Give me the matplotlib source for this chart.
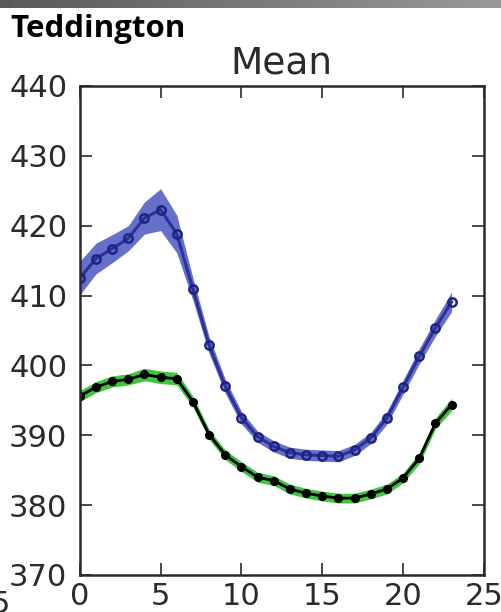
import numpy as np
import matplotlib
matplotlib.use('Agg')
import matplotlib.pyplot as plt

# hour of day
hours = list(range(24))

# upper series (blue) mean and spread
blue_mean = [412.5, 415.3, 416.7, 418.2, 421.1, 422.3, 418.8, 410.9, 402.9, 397.0,
             392.5, 389.8, 388.4, 387.5, 387.2, 387.1, 387.0, 387.9, 389.6, 392.5,
             396.9, 401.3, 405.4, 409.1]
blue_spread = [2.4, 2.2, 2.0, 1.8, 2.3, 3.0, 2.7, 1.6, 1.2, 1.0,
               0.9, 0.8, 0.8, 0.8, 0.8, 0.8, 0.8, 0.8, 0.8, 0.9,
               1.0, 1.1, 1.2, 1.4]

# lower series (green) mean and spread
green_mean = [395.6, 396.9, 397.7, 398.0, 398.7, 398.3, 398.1, 394.8, 390.1, 387.2,
              385.5, 384.0, 383.5, 382.3, 381.7, 381.3, 381.0, 381.0, 381.6, 382.3,
              383.9, 386.7, 391.7, 394.4]
green_spread = [0.8, 0.8, 0.8, 0.8, 0.9, 0.9, 0.9, 0.8, 0.7, 0.7,
                0.7, 0.7, 0.7, 0.7, 0.7, 0.7, 0.7, 0.7, 0.7, 0.7,
                0.7, 0.8, 0.8, 0.9]

x_ticks = [0, 5, 10, 15, 20, 25]
y_ticks = [370, 380, 390, 400, 410, 420, 430, 440]

fig = plt.figure(figsize=(5.02, 6.12), dpi=100)
ax = fig.add_axes([0.159, 0.0605, 0.805, 0.799])

h = np.array(hours)
bm = np.array(blue_mean)
bs = np.array(blue_spread)
gm = np.array(green_mean)
gs = np.array(green_spread)

ax.fill_between(h, bm - bs, bm + bs, color='#5560c6', alpha=0.9, lw=0)
ax.plot(h, bm, color='#2a3296', lw=2.2, marker='o', ms=6, mfc='none',
        mec='#1c2480', mew=1.8)

ax.fill_between(h, gm - gs, gm + gs, color='#36c236', alpha=0.95, lw=0)
ax.plot(h, gm, color='black', lw=2.0, marker='o', ms=5.5, mfc='black', mec='black')

ax.set_xlim(0, 25)
ax.set_ylim(370, 440)
ax.set_xticks(x_ticks)
ax.set_yticks(y_ticks)
ax.tick_params(direction='in', length=8.5, width=1.2, top=True, right=True,
               labelsize=22, colors='#2a2a2a')
ax.tick_params(axis='y', pad=9)
ax.tick_params(axis='x', pad=5)
for sp in ax.spines.values():
    sp.set_linewidth(1.8)
    sp.set_color('#2a2a2a')

ax.set_title('Mean', fontsize=27, pad=9, color='#2a2a2a')

fig.text(0.02, 0.952, 'Teddington', fontsize=22.5, fontweight='bold',
         family=['Open Sans', 'DejaVu Sans'], ha='left', va='center')
fig.text(0.0, 0.012, '5', fontsize=22, ha='center', va='center', color='#2a2a2a')

# grey strip along the top edge
bar = fig.add_axes([0, 0.987, 1, 0.013])
bar.imshow(np.linspace(0.35, 0.6, 256)[None, :], cmap='gray', aspect='auto',
           vmin=0, vmax=1)
bar.axis('off')

fig.savefig('out.png', dpi=100)
